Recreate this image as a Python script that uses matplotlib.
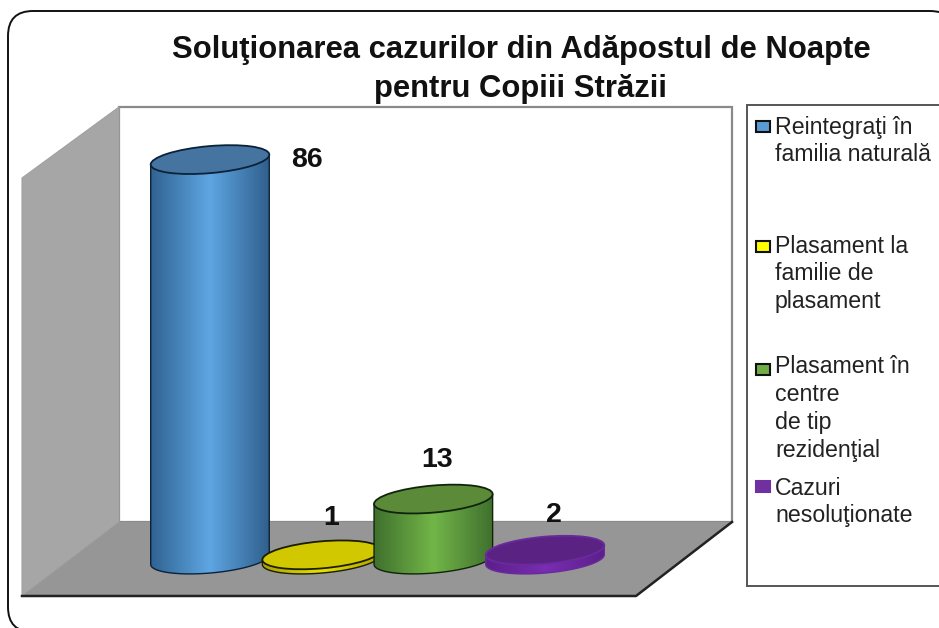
import numpy as np
import matplotlib
matplotlib.use('Agg')
import matplotlib.pyplot as plt
from matplotlib.colors import LinearSegmentedColormap
from matplotlib.patches import Ellipse, FancyBboxPatch, Polygon, Rectangle

plt.rcParams['font.family'] = ['Liberation Sans', 'DejaVu Sans']

title = 'Soluţionarea cazurilor din Adăpostul de Noapte\npentru Copiii Străzii'
labels = ['Reintegraţi în\nfamilia naturală',
          'Plasament la\nfamilie de\nplasament',
          'Plasament în\ncentre\nde tip\nrezidenţial',
          'Cazuri\nnesoluţionate']
values = [86, 1, 13, 2]

# side shading: edge, middle, edge / top face / outline / legend swatch
side_cols = [('#2f618f', '#5ea6e3', '#2f5f8c'),
             ('#a8a200', '#e8e000', '#a8a200'),
             ('#3f6f2d', '#72b648', '#3f6f2d'),
             ('#5a1f8a', '#7a2db3', '#5a1f8a')]
top_cols = ['#44749f', '#d2c800', '#5b8b39', '#5a2383']
edge_cols = ['#0c2238', '#1c1c00', '#10240c', '#6a2a9c']
swatch_cols = ['#5b9bd5', '#ffff00', '#70ad47', '#7030a0']

W, H = 939, 628
fig = plt.figure(figsize=(W / 100, H / 100), dpi=100, facecolor='white')

# page in pixels, y going down
pg = fig.add_axes([0, 0, 1, 1])
pg.set_xlim(0, W)
pg.set_ylim(H, 0)
pg.axis('off')

# value axes: only used for its scales, bars are placed through it
base_y = 559.5
unit = 4.65
left = 210 - 0.5 * 111.7
right = 545 + 0.5 * 111.7
top_val = 100
ax = fig.add_axes([left / W, (H - base_y) / H, (right - left) / W, unit * top_val / H])
ax.set_xlim(-0.5, 3.5)
ax.set_ylim(0, top_val)
ax.axis('off')


def to_page(x, y):
    px, py = ax.transData.transform((x, y))
    return pg.transData.inverted().transform((px, py))


# frame
pg.add_patch(FancyBboxPatch((33, 36), 897, 571, boxstyle='round,pad=25,rounding_size=25',
                            fc='white', ec='#111111', lw=1.4, zorder=0))

# walls and floor
pg.add_patch(Polygon([(119, 107), (732, 107), (732, 522), (119, 522)], fc='white', ec='#8a8a8a', lw=1.6, zorder=1))
pg.add_patch(Polygon([(22, 178), (119, 107), (119, 522), (22, 596)], fc='#a6a6a6', ec='#a0a0a0', lw=0.8, zorder=1))
pg.add_patch(Polygon([(22, 596), (119, 522), (732, 522), (636, 596)], fc='#969696', ec='none', zorder=1))
pg.plot([22, 636, 732], [596, 596, 522], color='#222222', lw=1.8, zorder=1.5)

a = 59.5
b = 13.5
theta = np.radians(-5)


def ell_pts(cx, cy, t):
    px = cx + a * np.cos(t) * np.cos(theta) - b * np.sin(t) * np.sin(theta)
    py = cy + a * np.cos(t) * np.sin(theta) + b * np.sin(t) * np.cos(theta)
    return np.column_stack([px, py])


t0 = np.arctan2(-b * np.sin(theta), a * np.cos(theta))
for i, v in enumerate(values):
    cx, yb = to_page(i, 0)
    _, yt = to_page(i, v)
    z = 3 + i
    low = ell_pts(cx, yb, np.linspace(t0, t0 + np.pi, 80))
    up = ell_pts(cx, yt, np.array([t0 + np.pi, t0]))
    body = Polygon(np.vstack([low, up]), fc='none', ec=edge_cols[i], lw=1.0, zorder=z + 0.2)
    pg.add_patch(body)
    cm = LinearSegmentedColormap.from_list('s', side_cols[i])
    im = pg.imshow(np.linspace(0, 1, 128)[None, :], cmap=cm, aspect='auto',
                   extent=(cx - a - 1, cx + a + 1, yb + 20, yt - 5), zorder=z)
    im.set_clip_path(body)
    pg.add_patch(Ellipse((cx, yt), 2 * a, 2 * b, angle=np.degrees(theta), fc=top_cols[i],
                         ec=edge_cols[i], lw=1.3, zorder=z + 0.3))
pg.set_xlim(0, W)
pg.set_ylim(H, 0)

# value labels, offset from the top of each cylinder
label_dx = [97, 9, 4, 9]
label_dy = [0.5, -36.5, -39.5, -35.5]
for i, v in enumerate(values):
    cx, yt = to_page(i, v)
    pg.text(cx + label_dx[i], yt + label_dy[i], str(v), fontsize=20.5, fontweight='bold',
            ha='center', va='center', color='#111111', zorder=10)

pg.text(521, 69.5, title, fontsize=22.3, fontweight='bold', ha='center', va='center',
        linespacing=1.4, color='#111111', zorder=10)

# legend
pg.add_patch(Rectangle((747, 105), 210, 481, fc='white', ec='#555555', lw=1.4, zorder=1))
text_y = [141, 274, 408.5, 502]
swatch_y = [126, 246.5, 369, 486.5]
for i, lab in enumerate(labels):
    pg.add_patch(Rectangle((756, swatch_y[i] - 5.5), 14, 11, fc=swatch_cols[i],
                           ec='#111111' if i < 3 else swatch_cols[i], lw=1.5, zorder=2))
    pg.text(775, text_y[i], lab, fontsize=16.7, ha='left', va='center', linespacing=1.27,
            color='#222222', zorder=10)

fig.savefig('out.png', dpi=100)
